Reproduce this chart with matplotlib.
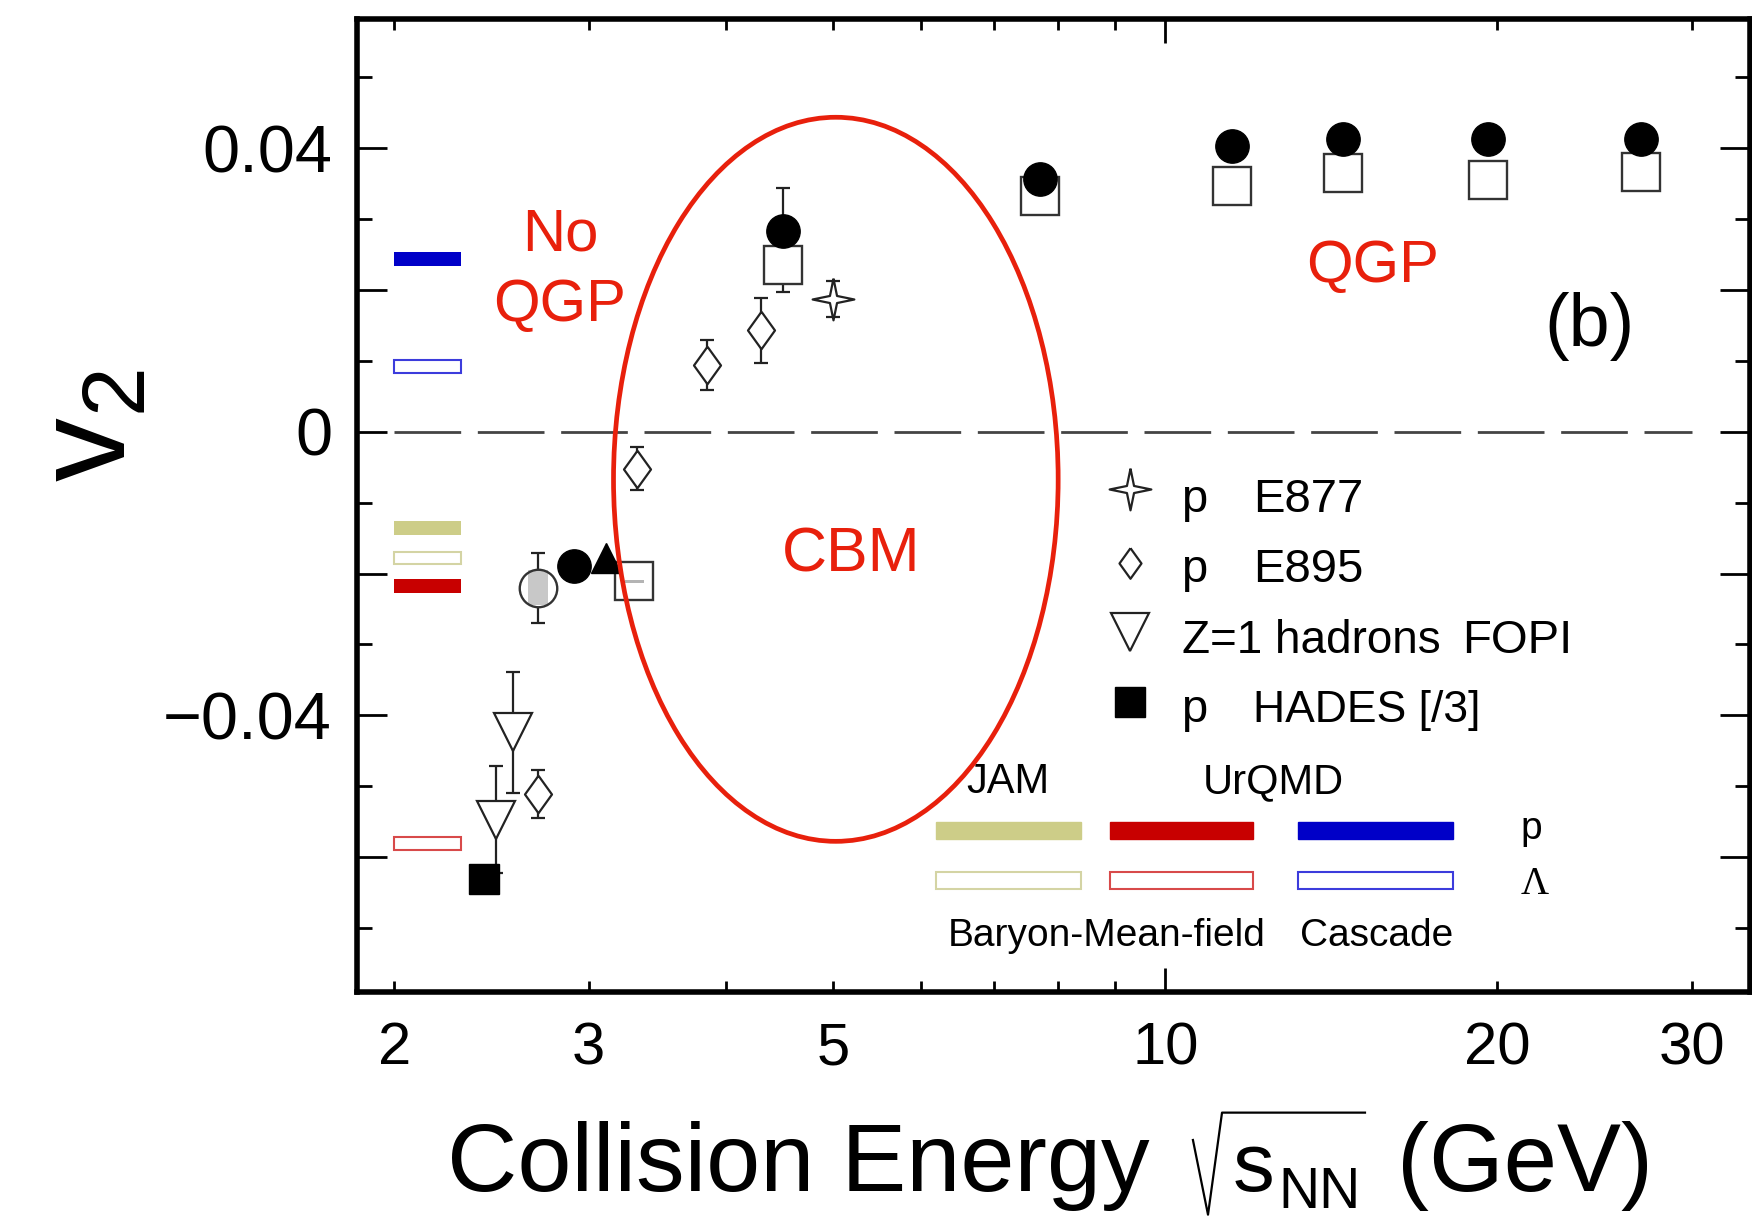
import matplotlib
matplotlib.use("Agg")
import matplotlib.pyplot as plt
from matplotlib.lines import Line2D
from matplotlib.patches import Ellipse, Rectangle
from matplotlib.ticker import FixedLocator, FuncFormatter, NullFormatter

plt.rcParams["font.family"] = ["Liberation Sans", "DejaVu Sans"]
plt.rcParams["mathtext.fontset"] = "custom"
plt.rcParams["mathtext.rm"] = "Liberation Sans"
plt.rcParams["mathtext.it"] = "Liberation Sans:italic"
plt.rcParams["lines.scale_dashes"] = False

RED = "#e8200c"
INK = "#222222"

# proton v2, filled circles
circ_e = [2.91, 4.5, 7.7, 11.5, 14.5, 19.6, 27.0]
circ_v2 = [-0.0189, 0.0283, 0.0357, 0.0403, 0.0413, 0.0413, 0.0413]
circ_err = [0.0, 0.006, 0.0, 0.0, 0.0, 0.0, 0.0]

# open squares
sq_e = [3.3, 4.5, 7.7, 11.5, 14.5, 19.6, 27.0]
sq_v2 = [-0.0211, 0.0235, 0.0332, 0.0347, 0.0365, 0.0355, 0.0366]
sq_err = [0.0, 0.0038, 0.0, 0.0, 0.0, 0.0, 0.0]
sq_sys = [0.0002, 0.0, 0.0, 0.0, 0.0, 0.0, 0.0]

# grey circle with systematic box
gc_e = [2.7]
gc_v2 = [-0.0220]
gc_err = [0.0049]
gc_sys = [0.0025]

# filled triangle
tri_e = [3.11]
tri_v2 = [-0.0178]

# E877 protons
e877_e = [5.0]
e877_v2 = [0.0187]
e877_err = [0.0025]

# E895 protons
e895_e = [2.7, 3.32, 3.84, 4.3]
e895_v2 = [-0.0511, -0.0052, 0.0094, 0.0143]
e895_err = [0.0034, 0.0030, 0.0035, 0.0046]

# FOPI Z=1 hadrons
fopi_e = [2.47, 2.56]
fopi_v2 = [-0.0547, -0.0424]
fopi_err = [0.0075, 0.0085]

# HADES protons (scaled by 1/3)
hades_e = [2.41]
hades_v2 = [-0.0631]

# model predictions, drawn as bars between 2.0 and 2.3 GeV
model_e = (2.0, 2.3)
model_colors = ["#cdcd88", "#c80000", "#0000c8"]
model_open_colors = ["#d4d4a4", "#d84a4a", "#3c3cdc"]
model_p = [-0.0136, -0.0218, 0.0243]
model_lam = [-0.0178, -0.0581, 0.0092]

diamond = [(0, 1), (0.72, 0), (0, -1), (-0.72, 0), (0, 1)]
r = 0.17
star4 = [(0, 1), (r, r), (1, 0), (r, -r), (0, -1), (-r, -r), (-1, 0), (-r, r), (0, 1)]

fig = plt.figure(figsize=(17.52, 12.22), dpi=100)
ax = fig.add_axes([0.2038, 0.1882, 0.7951, 0.7963])
ax.set_xscale("log")
ax.set_xlim(1.85, 33.9)
ax.set_ylim(-0.079, 0.0582)

ax.plot([2, 30], [0, 0], color="#444444", lw=2, ls=(0, (48, 12)), zorder=1)

# model bars
w = model_e[1] - model_e[0]
for c, v in zip(model_colors, model_p):
    ax.barh(v, w, left=model_e[0], height=0.002, color=c, zorder=2)
for c, v in zip(model_open_colors, model_lam):
    ax.barh(v, w, left=model_e[0], height=0.0018, facecolor="white",
            edgecolor=c, lw=1.5, zorder=2)


def errbars(x, y, err):
    xs = [a for a, e in zip(x, err) if e > 0]
    ys = [b for b, e in zip(y, err) if e > 0]
    es = [e for e in err if e > 0]
    if xs:
        ax.errorbar(xs, ys, yerr=es, fmt="none", ecolor=INK, elinewidth=1.6,
                    capsize=4.7, capthick=1.6, zorder=2)


def sysbox(x, y, sys, color, f=1.021):
    for a, b, s in zip(x, y, sys):
        if s > 0:
            ax.add_patch(Rectangle((a / f, b - s), a * f - a / f, 2 * s,
                                   facecolor=color, edgecolor="none", zorder=3.5))


errbars(sq_e, sq_v2, sq_err)
ax.plot(sq_e, sq_v2, "s", ms=27, mfc="white", mec="#333333", mew=1.7, ls="none", zorder=3)
sysbox(sq_e, sq_v2, sq_sys, "#b4b4b4", f=1.02)

errbars(circ_e, circ_v2, circ_err)
ax.plot(circ_e, circ_v2, "o", ms=24, color="black", ls="none", zorder=4)

errbars(gc_e, gc_v2, gc_err)
ax.plot(gc_e, gc_v2, "o", ms=27, mfc="white", mec="none", ls="none", zorder=3)
sysbox(gc_e, gc_v2, gc_sys, "#c8c8c8")
ax.plot(gc_e, gc_v2, "o", ms=27, mfc="none", mec="#333333", mew=1.7, ls="none", zorder=4)

ax.plot(tri_e, tri_v2, "^", ms=22, color="black", ls="none", zorder=4)

errbars(e877_e, e877_v2, e877_err)
ax.plot(e877_e, e877_v2, marker=star4, ms=30, mfc="white", mec=INK, mew=1.6,
        ls="none", zorder=3)

errbars(e895_e, e895_v2, e895_err)
ax.plot(e895_e, e895_v2, marker=diamond, ms=27, mfc="white", mec=INK, mew=1.6,
        ls="none", zorder=3)

errbars(fopi_e, fopi_v2, fopi_err)
ax.plot(fopi_e, fopi_v2, "v", ms=28, mfc="white", mec=INK, mew=1.6, ls="none", zorder=3)

ax.plot(hades_e, hades_v2, "s", ms=22, color="black", ls="none", zorder=4)

# data legend
tA = ax.transAxes
leg_y = [0.5166, 0.4406, 0.3703, 0.2977]
leg_x = 0.5549
ax.plot(leg_x, leg_y[0], marker=star4, ms=30, mfc="white", mec=INK, mew=1.6, transform=tA)
ax.plot(leg_x, leg_y[1], marker=diamond, ms=22, mfc="white", mec=INK, mew=1.6, transform=tA)
ax.plot(leg_x, leg_y[2], "v", ms=27, mfc="white", mec=INK, mew=1.6, transform=tA)
ax.plot(leg_x, leg_y[3], "s", ms=21, color="black", transform=tA)
ax.text(0.5912, 0.4936, "p", fontsize=34, transform=tA)
ax.text(0.6435, 0.4936, "E877", fontsize=34, transform=tA)
ax.text(0.5912, 0.4217, "p", fontsize=34, transform=tA)
ax.text(0.6435, 0.4217, "E895", fontsize=34, transform=tA)
ax.text(0.592, 0.3481, "Z=1 hadrons", fontsize=33, transform=tA)
ax.text(0.793, 0.3481, "FOPI", fontsize=34, transform=tA)
ax.text(0.5912, 0.2778, "p", fontsize=34, transform=tA)
ax.text(0.6435, 0.2778, "HADES [/3]", fontsize=32, transform=tA)

# model legend
bar_x = [(0.4157, 0.5199), (0.5402, 0.6430), (0.6757, 0.7866)]
for (x0, x1), c, co in zip(bar_x, model_colors, model_open_colors):
    ax.add_patch(Rectangle((x0, 0.166 - 0.009), x1 - x0, 0.018, color=c, transform=tA))
    ax.add_patch(Rectangle((x0, 0.1144 - 0.0085), x1 - x0, 0.017, facecolor="white",
                           edgecolor=co, lw=1.5, transform=tA))
ax.text(0.4675, 0.2042, "JAM", fontsize=30, ha="center", transform=tA)
ax.text(0.6580, 0.2042, "UrQMD", fontsize=30, ha="center", transform=tA)
ax.text(0.835, 0.157, "p", fontsize=28, transform=tA)
ax.text(0.835, 0.1007, "\u039b", fontsize=28, family="Liberation Serif", transform=tA)
ax.text(0.5380, 0.0475, "Baryon-Mean-field", fontsize=28, ha="center", transform=tA)
ax.text(0.7316, 0.0475, "Cascade", fontsize=28, ha="center", transform=tA)

ax.text(0.885, 0.664, "(b)", fontsize=53, ha="center", transform=tA)

# annotations
ax.add_patch(Ellipse((0.3437, 0.5269), 0.3192, 0.7441, fill=False, ec=RED, lw=3.4,
                     transform=tA, zorder=6))
ax.text(0.146, 0.7623, "No", fontsize=43, color=RED, ha="center", transform=tA)
ax.text(0.1453, 0.6892, "QGP", fontsize=43, color=RED, ha="center", transform=tA)
ax.text(0.355, 0.4317, "CBM", fontsize=45, color=RED, ha="center", transform=tA)
ax.text(0.7287, 0.73, "QGP", fontsize=43, color=RED, ha="center", transform=tA)

# axes styling
for s in ax.spines.values():
    s.set_linewidth(4)
ax.tick_params(which="both", direction="in", top=True, right=True, width=2, color="black")
ax.tick_params(axis="y", which="major", length=21.6, labelsize=48, pad=18)
ax.tick_params(axis="y", which="minor", length=10.8)
ax.tick_params(axis="x", which="major", length=17, labelsize=43, pad=21)
ax.tick_params(axis="x", which="minor", length=8, labelsize=43, pad=21)

ax.xaxis.set_major_locator(FixedLocator([10]))
ax.xaxis.set_minor_locator(FixedLocator([2, 3, 4, 5, 6, 7, 8, 9, 20, 30]))
ax.xaxis.set_major_formatter(FuncFormatter(lambda v, p: "%g" % v))
ax.xaxis.set_minor_formatter(FuncFormatter(lambda v, p: "%g" % v if round(v) in (2, 3, 5, 20, 30) else ""))

ax.yaxis.set_major_locator(FixedLocator([-0.06, -0.04, -0.02, 0.0, 0.02, 0.04]))
ax.yaxis.set_minor_locator(FixedLocator([-0.07, -0.05, -0.03, -0.01, 0.01, 0.03, 0.05]))


def ylab(v, p):
    if abs(v) < 1e-9:
        return "0"
    if abs(abs(v) - 0.04) < 1e-9:
        return ("\u2212" if v < 0 else "") + "0.04"
    return ""


ax.yaxis.set_major_formatter(FuncFormatter(ylab))
ax.yaxis.set_minor_formatter(NullFormatter())

# x label, with the square-root sign drawn by hand
fig.text(0.2551, 0.0254, "Collision Energy", fontsize=70, ha="left", va="baseline")
fig.add_artist(Line2D([0.6809, 0.6895, 0.6975, 0.7791], [0.0671, 0.0060, 0.0895, 0.0895],
                      transform=fig.transFigure, color="black", lw=1.6))
fig.text(0.7038, 0.0254, "s", fontsize=60, ha="left", va="baseline")
fig.text(0.7295, 0.0115, "NN", fontsize=41, ha="left", va="baseline")
fig.text(0.7974, 0.0254, "(GeV)", fontsize=69, ha="left", va="baseline")

fig.text(0.0531, 0.6518, r"$\mathrm{v}_{\mathrm{2}}$", fontsize=92, rotation=90,
         ha="center", va="center")

fig.savefig("out.png", dpi=100)
